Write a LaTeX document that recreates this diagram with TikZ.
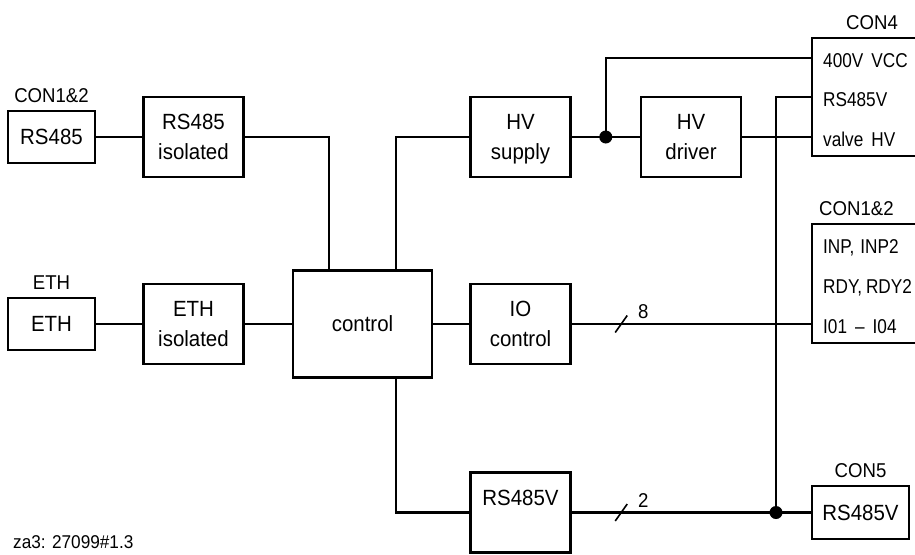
\documentclass[tikz,border=0pt]{standalone}
\usepackage{fontspec}
\setmainfont{Liberation Sans}[FakeStretch=0.93]
\newfontfamily\pinfont{Liberation Sans}[FakeStretch=0.86]
\usetikzlibrary{positioning,calc}

\begin{document}
\begin{tikzpicture}[x=1pt, y=-1pt, line width=2.4pt,
  blk/.style={rectangle, draw, inner sep=0pt, outer sep=0pt,
              minimum width=100pt, minimum height=80pt, align=center,
              text depth=0pt, font=\fontsize{22}{30}\selectfont},
  port/.style={rectangle, draw, inner sep=0pt, outer sep=0pt,
               minimum width=87pt, minimum height=52pt,
               font=\fontsize{22}{30}\selectfont},
  conbox/.style={rectangle, draw, inner sep=0pt, outer sep=0pt,
                 minimum width=115pt, minimum height=119pt},
  pin/.style={anchor=base west, inner sep=0pt, font=\pinfont\fontsize{20}{24}\selectfont},
  tag/.style={inner sep=0pt, font=\fontsize{20}{24}\selectfont},
  num/.style={inner sep=0pt, font=\fontsize{20}{24}\selectfont},
  dot/.style={circle, fill, inner sep=0pt, minimum size=13pt},
  bus/.style={line width=1.6pt}
]
\path[use as bounding box] (0,0) rectangle (915,554);
\clip (0,0) rectangle (915,554);

% Blocks
\node[port] (rs)   at (51.5,137)  {RS485};
\node[blk]  (rsi)  at (193.5,137) {RS485\\isolated};
\node[port] (eth)  at (51.5,324)  {ETH};
\node[blk]  (ethi) at (193.5,324) {ETH\\isolated};
\node[blk, minimum width=139pt, minimum height=107pt] (ctrl) at (362.5,324) {control};
\node[blk]  (hvs)  at (520.5,137) {HV\\supply};
\node[blk]  (hvd)  at (691,137)   {HV\\driver};
\node[blk]  (ioc)  at (520.5,324) {IO\\control};
\node[blk]  (rsv)  at (520.5,512.5) {RS485V\\~};

% Connectors
\node[conbox, minimum height=118pt] (con4) at (869.5,97) {};
\node[conbox] (con12) at (869.5,283.5) {};
\node[port, minimum width=97pt, minimum height=53pt] (con5) at (860.5,512.5) {RS485V};

\node[tag, above=7pt of rs]  (trs)  {CON1\&2};
\node[tag, above=7pt of eth] (teth) {ETH};
\node[tag, above right=7pt and 33pt of con4.north west] (tcon4)  {CON4};
\node[tag, above right=7pt and 6pt of con12.north west] (tcon12) {CON1\&2};
\node[tag, above=7pt of con5] (tcon5) {CON5};

% Connector pins
\coordinate (p4a)  at ($(con4.north west)+(0,20)$);
\coordinate (p4b)  at ($(con4.north west)+(0,59)$);
\coordinate (p4c)  at ($(con4.north west)+(0,99)$);
\coordinate (p12a) at ($(con12.north west)+(0,20)$);
\coordinate (p12b) at ($(con12.north west)+(0,60)$);
\coordinate (p12c) at ($(con12.north west)+(0,100)$);
\node[pin] (l4a)  at ($(p4a)+(10,9)$)  {400V\hspace{8pt}VCC};
\node[pin] (l4b)  at ($(p4b)+(10,9)$)  {RS485V};
\node[pin] (l4c)  at ($(p4c)+(10,9)$)  {valve\hspace{8pt}HV};
\node[pin] (l12a) at ($(p12a)+(10,9)$) {INP,\hspace{6pt}INP2};
\node[pin] (l12b) at ($(p12b)+(10,9)$) {RDY,\hspace{4pt}RDY2};
\node[pin] (l12c) at ($(p12c)+(10,9)$) {I01\hspace{8pt}\textendash\hspace{8pt}I04};

% Wires
\coordinate (ctA) at ($(ctrl.north west)+(36,0)$);
\coordinate (ctB) at ($(ctrl.north east)+(-36,0)$);
\coordinate (ctC) at ($(ctrl.south east)+(-36,0)$);
\coordinate (jhv) at ($(hvs.east)!0.5!(hvd.west)$);
\coordinate (jrs) at ($(con5.west)+(-36,0)$);

\draw (rs.east)   -- (rsi.west);
\draw (rsi.east)  -| (ctA);
\draw (eth.east)  -- (ethi.west);
\draw (ethi.east) -- (ctrl.west);
\draw (ctrl.east) -- (ioc.west);
\draw (ctB) |- (hvs.west);
\draw (ctC) |- (rsv.west);
\draw (hvs.east)  -- (hvd.west);
\draw (jhv) |- (p4a);
\draw (hvd.east)  -- (p4c);
\draw (p4b) -| (jrs);
\draw (ioc.east)  -- coordinate[pos=0.21] (bus8) (p12c);
\draw (rsv.east)  -- coordinate[pos=0.21] (bus2) (con5.west);
\node[dot] (dhv) at (jhv) {};
\node[dot] (drs) at (jrs) {};

% Bus widths
\draw[bus] ($(bus8)+(-6,8.5)$) -- ($(bus8)+(6,-8.5)$);
\draw[bus] ($(bus2)+(-6,8.5)$) -- ($(bus2)+(6,-8.5)$);
\node[num] (n8) at ($(bus8)+(22,-12)$) {8};
\node[num] (n2) at ($(bus2)+(22,-12)$) {2};

\node[anchor=base west, inner sep=0pt, font=\fontsize{18.5}{22}\selectfont] (ref) at (12,548) {za3: 27099\#1.3};
\end{tikzpicture}
\end{document}
